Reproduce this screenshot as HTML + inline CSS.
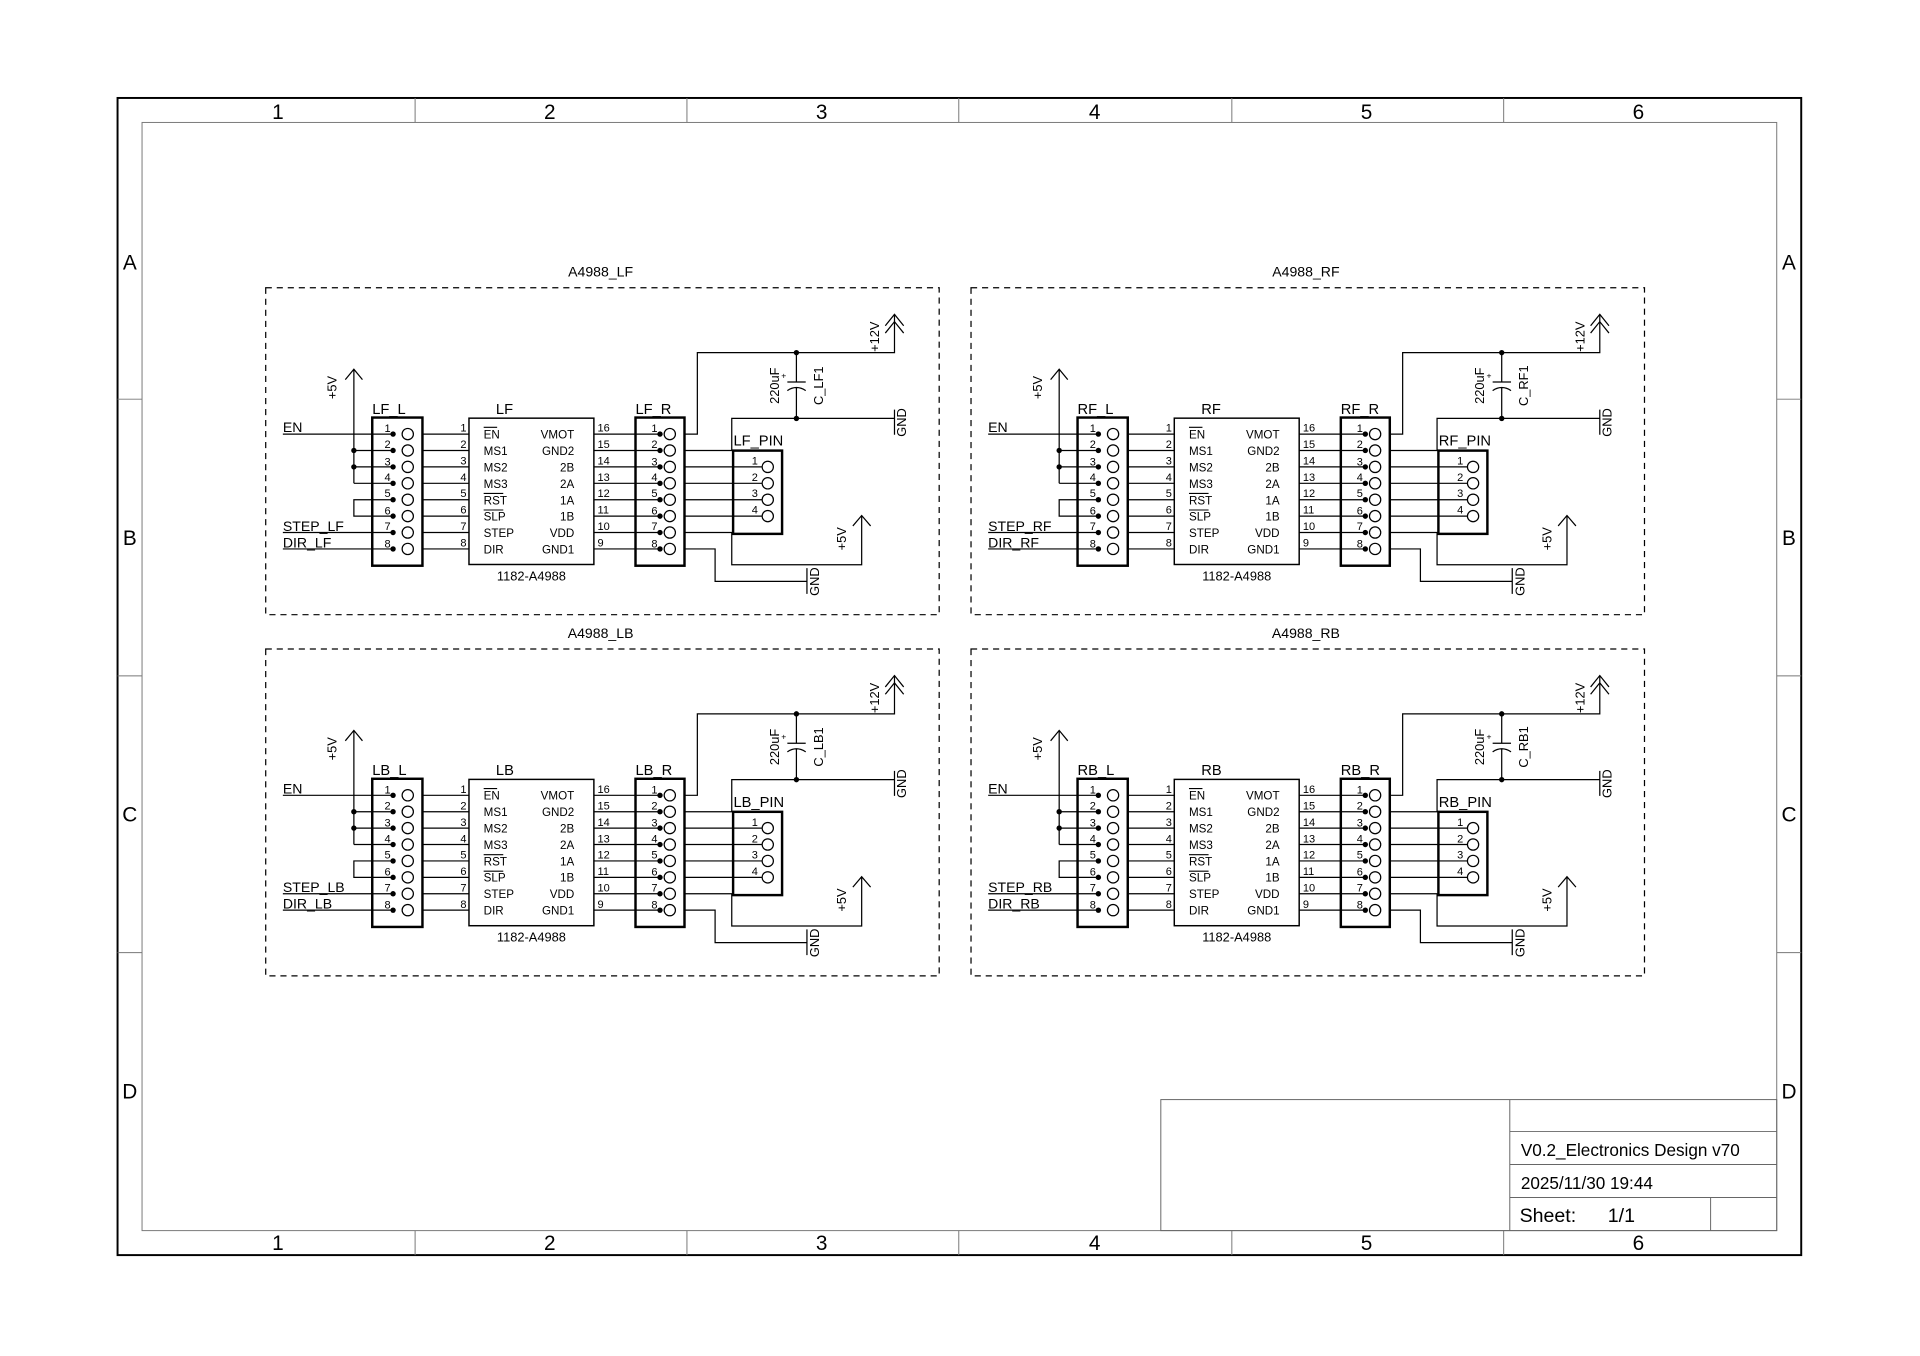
<!DOCTYPE html>
<html><head><meta charset="utf-8"><style>
html,body{margin:0;padding:0;background:#fff;width:1920px;height:1356px;overflow:hidden}
svg{display:block}
text{font-family:"Liberation Sans",sans-serif;fill:#000}
</style></head><body>
<svg width="1920" height="1356" viewBox="0 0 1568 1107.4" preserveAspectRatio="none" xmlns="http://www.w3.org/2000/svg">
<defs>
<g id="blk" stroke="#000" stroke-width="1" fill="none">
  <rect x="0" y="0" width="550" height="267" stroke-dasharray="5,4"/>
  <rect x="87" y="106" width="41" height="121" stroke-width="2"/>
  <g>
    <circle cx="116" cy="119.5" r="4.6"/><circle cx="116" cy="132.9" r="4.6"/><circle cx="116" cy="146.3" r="4.6"/><circle cx="116" cy="159.7" r="4.6"/>
    <circle cx="116" cy="173.1" r="4.6"/><circle cx="116" cy="186.5" r="4.6"/><circle cx="116" cy="199.9" r="4.6"/><circle cx="116" cy="213.3" r="4.6"/>
  </g>
  <path d="M14 119.5H104M72 132.9H104M72 146.3H104M72 159.7H104M104 173.1H72V186.5H104M14 199.9H104M14 213.3H104"/>
  <path d="M72 159.7V66.5M65 75L72 66.5L79 75"/>
  <path d="M128 119.5H166M128 132.9H166M128 146.3H166M128 159.7H166M128 173.1H166M128 186.5H166M128 199.9H166M128 213.3H166"/>
  <rect x="166" y="106.5" width="102" height="119.5" stroke-width="1.2"/>
  <path d="M178 114H189M178 168H194M178 181.5H194" stroke-width="0.9"/>
  <path d="M268 119.5H322M268 132.9H322M268 146.3H322M268 159.7H322M268 173.1H322M268 186.5H322M268 199.9H322M268 213.3H322"/>
  <rect x="302" y="106" width="40" height="121" stroke-width="2"/>
  <g>
    <circle cx="330" cy="119.5" r="4.6"/><circle cx="330" cy="132.9" r="4.6"/><circle cx="330" cy="146.3" r="4.6"/><circle cx="330" cy="159.7" r="4.6"/>
    <circle cx="330" cy="173.1" r="4.6"/><circle cx="330" cy="186.5" r="4.6"/><circle cx="330" cy="199.9" r="4.6"/><circle cx="330" cy="213.3" r="4.6"/>
  </g>
  <path d="M342 119.5H352.5V53H513.5V21.7"/>
  <path d="M506 31L513.5 21.7L521 31M506 37L513.5 27.7L521 37"/>
  <path d="M433.4 53V77M426 77H441M426 84Q433.4 79 441 84M433.4 81.5V106.7"/>
  <path d="M342 132.9H380.6V106.7H513.5M513.5 99.5V120" />
  <path d="M342 146.3H405.4M342 159.7H405.4M342 173.1H405.4M342 186.5H405.4"/>
  <rect x="381.7" y="133" width="40" height="68" stroke-width="2"/>
  <circle cx="410" cy="146.3" r="4.6"/><circle cx="410" cy="159.7" r="4.6"/><circle cx="410" cy="173.1" r="4.6"/><circle cx="410" cy="186.5" r="4.6"/>
  <path d="M342 199.9H380.6V226.2H486.7V186M479.5 194.5L486.7 186L494 194.5"/>
  <path d="M342 213.3H367V239.8H442M442 229V250"/>
</g>
<g id="blkfill" fill="#000">
  <circle cx="72" cy="132.9" r="2.2"/><circle cx="72" cy="146.3" r="2.2"/>
  <circle cx="104" cy="119.5" r="2.2"/><circle cx="104" cy="132.9" r="2.2"/><circle cx="104" cy="146.3" r="2.2"/><circle cx="104" cy="159.7" r="2.2"/>
  <circle cx="104" cy="173.1" r="2.2"/><circle cx="104" cy="186.5" r="2.2"/><circle cx="104" cy="199.9" r="2.2"/><circle cx="104" cy="213.3" r="2.2"/>
  <circle cx="322" cy="119.5" r="2.2"/><circle cx="322" cy="132.9" r="2.2"/><circle cx="322" cy="146.3" r="2.2"/><circle cx="322" cy="159.7" r="2.2"/>
  <circle cx="322" cy="173.1" r="2.2"/><circle cx="322" cy="186.5" r="2.2"/><circle cx="322" cy="199.9" r="2.2"/><circle cx="322" cy="213.3" r="2.2"/>
  <circle cx="433.4" cy="53" r="2.2"/><circle cx="433.4" cy="106.7" r="2.2"/>
</g>
<g id="blktxt" font-size="9.5">
  <g text-anchor="end" font-size="9">
    <text x="102" y="118">1</text><text x="102" y="131">2</text><text x="102" y="145">3</text><text x="102" y="158">4</text>
    <text x="102" y="171">5</text><text x="102" y="185">6</text><text x="102" y="198">7</text><text x="102" y="212">8</text>
    <text x="164" y="117.5">1</text><text x="164" y="131">2</text><text x="164" y="144.5">3</text><text x="164" y="158">4</text>
    <text x="164" y="171">5</text><text x="164" y="184.5">6</text><text x="164" y="198">7</text><text x="164" y="211.5">8</text>
    <text x="320" y="118">1</text><text x="320" y="131">2</text><text x="320" y="145">3</text><text x="320" y="158">4</text>
    <text x="320" y="171">5</text><text x="320" y="185">6</text><text x="320" y="198">7</text><text x="320" y="212">8</text>
    <text x="402" y="144.5">1</text><text x="402" y="158">2</text><text x="402" y="171">3</text><text x="402" y="184.5">4</text>
  </g>
  <g font-size="9">
    <text x="271" y="117.5">16</text><text x="271" y="131">15</text><text x="271" y="144.5">14</text><text x="271" y="158">13</text>
    <text x="271" y="171">12</text><text x="271" y="184.5">11</text><text x="271" y="198">10</text><text x="271" y="211.5">9</text>
  </g>
  <text x="178" y="123">EN</text><text x="178" y="136.5">MS1</text><text x="178" y="150">MS2</text><text x="178" y="163.5">MS3</text>
  <text x="178" y="177">RST</text><text x="178" y="190">SLP</text><text x="178" y="203.5">STEP</text><text x="178" y="217">DIR</text>
  <g text-anchor="end">
    <text x="252" y="123">VMOT</text><text x="252" y="136.5">GND2</text><text x="252" y="150">2B</text><text x="252" y="163.5">2A</text>
    <text x="252" y="177">1A</text><text x="252" y="190">1B</text><text x="252" y="203.5">VDD</text><text x="252" y="217">GND1</text>
  </g>
  <text x="217" y="239" text-anchor="middle" font-size="10.5">1182-A4988</text>
  <text x="14" y="118" font-size="11.5">EN</text>
  <g font-size="10.5" text-anchor="middle">
    <text transform="translate(58,81.5) rotate(-90)">+5V</text>
    <text transform="translate(501,40) rotate(-90)">+12V</text>
    <text transform="translate(474,205) rotate(-90)">+5V</text>
    <text transform="translate(523,110) rotate(-90)">GND</text>
    <text transform="translate(452,240) rotate(-90)">GND</text>
    <text transform="translate(419,80) rotate(-90)">220uF</text>
  </g>
  <text x="421" y="74" font-size="7">+</text>
</g>
</defs>

<g fill="none" stroke="#000">
  <rect x="96" y="80" width="1375" height="945" stroke-width="1.6"/>
  <rect x="116" y="100" width="1335" height="905" stroke="#777" stroke-width="0.8"/>
  <path d="M339 80V100M561 80V100M783 80V100M1006 80V100M1228 80V100M339 1005V1025M561 1005V1025M783 1005V1025M1006 1005V1025M1228 1005V1025M96 326H116M96 552H116M96 778H116M1451 326H1471M1451 552H1471M1451 778H1471" stroke="#777" stroke-width="0.8"/>
  <rect x="948" y="898" width="503" height="107" stroke="#666" stroke-width="0.8"/>
  <path d="M1233 898V1005M1233 924H1451M1233 951H1451M1233 978H1451M1397 978V1005" stroke="#666" stroke-width="0.8"/>
</g>
<g font-size="17" text-anchor="middle">
  <text x="227" y="97">1</text><text x="449" y="97">2</text><text x="671" y="97">3</text><text x="894" y="97">4</text><text x="1116" y="97">5</text><text x="1338" y="97">6</text>
  <text x="227" y="1021">1</text><text x="449" y="1021">2</text><text x="671" y="1021">3</text><text x="894" y="1021">4</text><text x="1116" y="1021">5</text><text x="1338" y="1021">6</text>
  <text x="106" y="220">A</text><text x="106" y="445">B</text><text x="106" y="671">C</text><text x="106" y="897">D</text>
  <text x="1461" y="220">A</text><text x="1461" y="445">B</text><text x="1461" y="671">C</text><text x="1461" y="897">D</text>
</g>
<text x="1242" y="944" font-size="14">V0.2_Electronics Design v70</text>
<text x="1242" y="971" font-size="14">2025/11/30 19:44</text>
<text x="1241" y="998" font-size="16">Sheet:</text><text x="1313" y="998" font-size="16">1/1</text>

<g transform="translate(217,235)">
  <use href="#blk"/><use href="#blkfill"/><use href="#blktxt"/>
  <text x="273.5" y="-9" text-anchor="middle" font-size="11.5">A4988_LF</text>
  <text x="87" y="103" font-size="12">LF_L</text><text x="188" y="103" font-size="12">LF</text><text x="302" y="103" font-size="12">LF_R</text>
  <text x="382" y="129" font-size="12">LF_PIN</text>
  <text x="14" y="198.5" font-size="11.5">STEP_LF</text><text x="14" y="212" font-size="11.5">DIR_LF</text>
  <text transform="translate(455,80) rotate(-90)" text-anchor="middle" font-size="10.5">C_LF1</text>
</g>
<g transform="translate(793,235)">
  <use href="#blk"/><use href="#blkfill"/><use href="#blktxt"/>
  <text x="273.5" y="-9" text-anchor="middle" font-size="11.5">A4988_RF</text>
  <text x="87" y="103" font-size="12">RF_L</text><text x="188" y="103" font-size="12">RF</text><text x="302" y="103" font-size="12">RF_R</text>
  <text x="382" y="129" font-size="12">RF_PIN</text>
  <text x="14" y="198.5" font-size="11.5">STEP_RF</text><text x="14" y="212" font-size="11.5">DIR_RF</text>
  <text transform="translate(455,80) rotate(-90)" text-anchor="middle" font-size="10.5">C_RF1</text>
</g>
<g transform="translate(217,530)">
  <use href="#blk"/><use href="#blkfill"/><use href="#blktxt"/>
  <text x="273.5" y="-9" text-anchor="middle" font-size="11.5">A4988_LB</text>
  <text x="87" y="103" font-size="12">LB_L</text><text x="188" y="103" font-size="12">LB</text><text x="302" y="103" font-size="12">LB_R</text>
  <text x="382" y="129" font-size="12">LB_PIN</text>
  <text x="14" y="198.5" font-size="11.5">STEP_LB</text><text x="14" y="212" font-size="11.5">DIR_LB</text>
  <text transform="translate(455,80) rotate(-90)" text-anchor="middle" font-size="10.5">C_LB1</text>
</g>
<g transform="translate(793,530)">
  <use href="#blk"/><use href="#blkfill"/><use href="#blktxt"/>
  <text x="273.5" y="-9" text-anchor="middle" font-size="11.5">A4988_RB</text>
  <text x="87" y="103" font-size="12">RB_L</text><text x="188" y="103" font-size="12">RB</text><text x="302" y="103" font-size="12">RB_R</text>
  <text x="382" y="129" font-size="12">RB_PIN</text>
  <text x="14" y="198.5" font-size="11.5">STEP_RB</text><text x="14" y="212" font-size="11.5">DIR_RB</text>
  <text transform="translate(455,80) rotate(-90)" text-anchor="middle" font-size="10.5">C_RB1</text>
</g>
</svg>
</body></html>
